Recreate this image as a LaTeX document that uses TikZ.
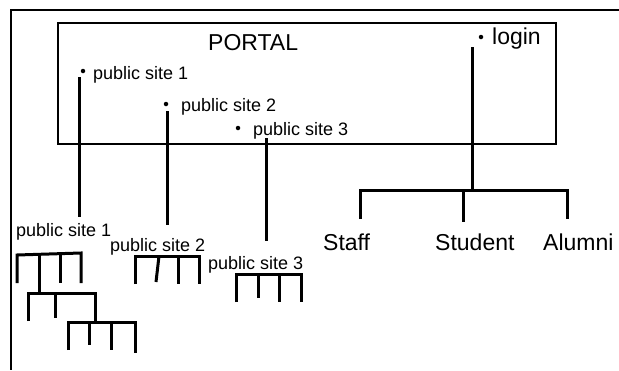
\documentclass[tikz,border=0pt]{standalone}
\usepackage{fontspec}
\setmainfont{Liberation Sans}
\begin{document}
\begin{tikzpicture}[x=1pt,y=-1pt,
  big/.style={inner sep=0pt, anchor=west, font=\fontsize{23}{23}\selectfont},
  small/.style={inner sep=0pt, anchor=west, font=\fontsize{18}{18}\selectfont},
  dot/.style={circle, fill, inner sep=0pt, minimum size=4.5pt},
  frame/.style={line width=2.6pt},
  link/.style={line width=3pt},
]
\useasboundingbox (0,0) rectangle (619,370);

% outer frame: top and left sides
\draw[frame] (619,10) -- (11,10) -- (11,370);

% portal box and its entries
\draw[frame] (58,23) rectangle (556,144);
\node[big] (portal) at (208,43) {PORTAL};
\node[dot] (dlogin) at (481,37) {};
\node[big] (login) at (492,38.7) {login};
\node[dot] (d1) at (83,71) {};
\node[small] (ps1) at (93,75) {public site 1};
\node[dot] (d2) at (166,104) {};
\node[small] (ps2) at (181,107) {public site 2};
\node[dot] (d3) at (238,128) {};
\node[small] (ps3) at (253,130.5) {public site 3};

% drop lines out of the portal
\coordinate (c1a) at (79,77);   \coordinate (c1b) at (79,217);
\coordinate (c2a) at (167,111); \coordinate (c2b) at (167,225);
\coordinate (c3a) at (266,138); \coordinate (c3b) at (266,241);
\coordinate (cla) at (472,47);  \coordinate (clb) at (472,190);
\draw[link] (c1a) -- (c1b);
\draw[link] (c2a) -- (c2b);
\draw[link] (c3a) -- (c3b);
\draw[link] (cla) -- (clb);

% login branches
\draw[link] (360,219) -- (360,190) -- (567,190) -- (567,219);
\draw[link] (463,190) -- (463,222);
\node[big] (staff) at (323,242.5) {Staff};
\node[big] (student) at (435,242.5) {Student};
\node[big] (alumni) at (543,242.5) {Alumni};

% public site trees
\node[small] (t1) at (16,231.5) {public site 1};
\node[small] (t2) at (110,246.5) {public site 2};
\node[small] (t3) at (208,264.5) {public site 3};

\draw[link] (17,283) -- (17,255) -- (81,253) -- (81,283);
\draw[link] (39,254) -- (39,293);
\draw[link] (60,254) -- (60,283);

\draw[link] (28,321) -- (28,293) -- (95,293) -- (95,322);
\draw[link] (55,293) -- (55,318);

\draw[link] (68,350) -- (68,322) -- (135,322) -- (135,353);
\draw[link] (89,322) -- (89,345);
\draw[link] (111,322) -- (111,350);

\draw[link] (135,284) -- (135,256) -- (199,256) -- (199,284);
\draw[link] (159,256) -- (156,282);
\draw[link] (178,256) -- (178,284);

\draw[link] (236,302) -- (236,274) -- (301,274) -- (301,302);
\draw[link] (258,274) -- (258,298);
\draw[link] (279,274) -- (279,302);
\end{tikzpicture}
\end{document}
